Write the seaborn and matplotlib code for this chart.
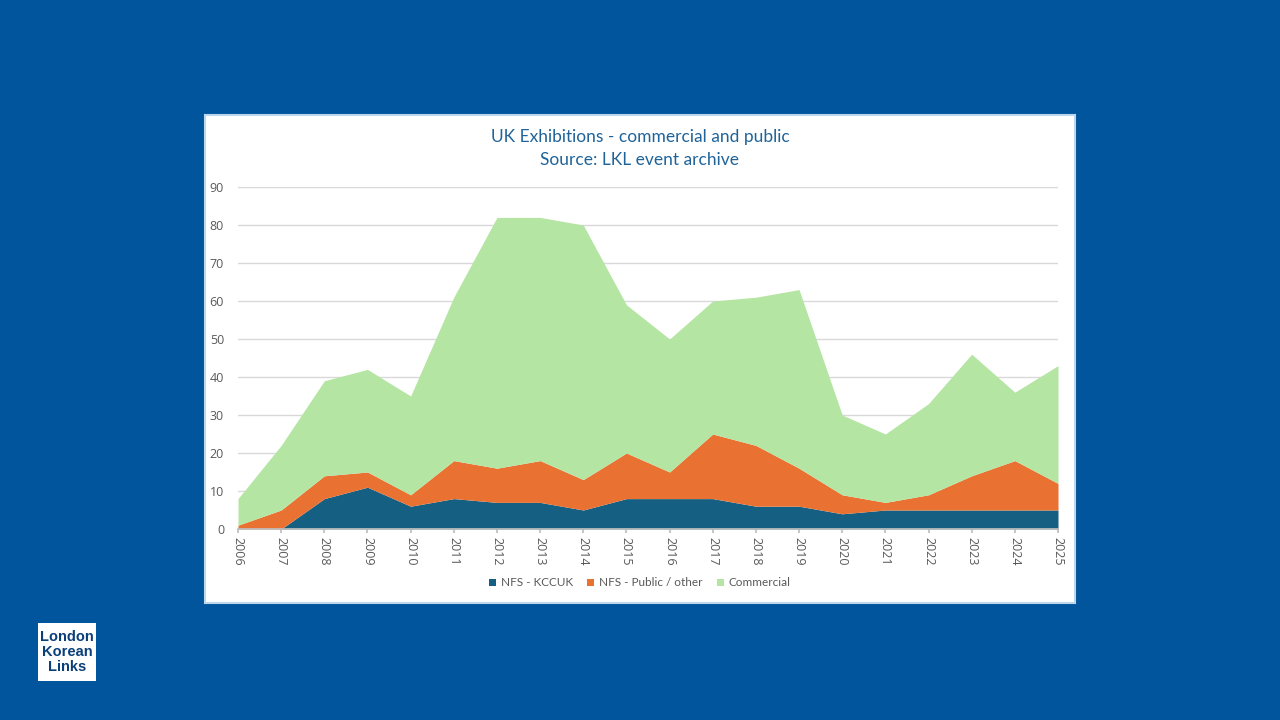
import matplotlib
matplotlib.use("Agg")
import matplotlib.pyplot as plt
import seaborn as sns
import numpy as np
from matplotlib.patches import Rectangle

years = [2006, 2007, 2008, 2009, 2010, 2011, 2012, 2013, 2014, 2015,
         2016, 2017, 2018, 2019, 2020, 2021, 2022, 2023, 2024, 2025]
nfs_kccuk = [0, 0, 8, 11, 6, 8, 7, 7, 5, 8, 8, 8, 6, 6, 4, 5, 5, 5, 5, 5]
nfs_public = [1, 5, 6, 4, 3, 10, 9, 11, 8, 12, 7, 17, 16, 10, 5, 2, 4, 9, 13, 7]
commercial = [7, 17, 25, 27, 26, 43, 66, 64, 67, 39, 35, 35, 39, 47, 21, 18, 24, 32, 18, 31]
series_names = ["NFS - KCCUK", "NFS - Public / other", "Commercial"]
y_ticks = [0, 10, 20, 30, 40, 50, 60, 70, 80, 90]

sns.set_theme(style="white")
plt.rcParams['font.family'] = ['Lato', 'DejaVu Sans']

colors = sns.color_palette(["#156082", "#E97132", "#B4E5A2"])
bg = "#01559C"

fig = plt.figure(figsize=(12.8, 7.2), dpi=100, facecolor=bg)

# white panel
fig.patches.append(Rectangle((205/1280, 1-603/720), 870/1280, 488/720,
                             transform=fig.transFigure, facecolor="white",
                             edgecolor="#BDD7EE", linewidth=1.5, zorder=0))

ax = fig.add_axes([238/1280, 1-529/720, 820/1280, 342/720])
ax.set_zorder(2)
ax.set_facecolor("white")
ax.stackplot(years, nfs_kccuk, nfs_public, commercial, colors=colors,
             labels=series_names, linewidth=0, zorder=2)
ax.set_xlim(years[0], years[-1])
ax.set_ylim(0, 90)
ax.set_yticks(y_ticks)
ax.set_xticks(years)
ax.set_xticklabels([str(y) for y in years], rotation=-90, fontsize=9, color="#595959",
                   family=["Open Sans", "DejaVu Sans"])
ax.set_yticklabels([str(v) for v in y_ticks], fontsize=9, color="#595959",
                   family=["Open Sans", "DejaVu Sans"])
ax.yaxis.grid(True, color="#D9D9D9", linewidth=1, zorder=0)
ax.set_axisbelow(True)
for s in ["top", "right", "left"]:
    ax.spines[s].set_visible(False)
ax.spines["bottom"].set_color("#BFBFBF")
ax.spines["bottom"].set_zorder(3)
ax.tick_params(axis="x", length=3, color="#BFBFBF", pad=3, bottom=True)
ax.tick_params(axis="y", length=0, pad=10)

fig.text(0.5, 1-137/720, "UK Exhibitions - commercial and public", ha="center", va="center",
         fontsize=12.5, color="#1F6399", zorder=3)
fig.text(0.5, 1-160/720, "Source: LKL event archive", ha="center", va="center",
         fontsize=12.5, color="#1F6399", zorder=3)

handles, labels = ax.get_legend_handles_labels()
leg = fig.legend(handles, labels, loc="center", bbox_to_anchor=(640/1280, 1-583/720),
                 ncol=3, frameon=False, fontsize=8.5, handlelength=0.6, handleheight=0.6,
                 handletextpad=0.4, columnspacing=1.2, labelcolor="#595959")
leg.set_zorder(3)

# logo
fig.patches.append(Rectangle((38/1280, 1-681/720), 58/1280, 58/720,
                             transform=fig.transFigure, facecolor="white",
                             edgecolor="none", zorder=1))
fig.text(67/1280, 1-652/720, "London\nKorean\nLinks", ha="center", va="center",
         fontsize=10.5, fontweight="bold", color="#0B3F7A", linespacing=1.05,
         family=["Liberation Sans", "DejaVu Sans"], zorder=3)

fig.savefig("out.png", dpi=100, facecolor=bg)
